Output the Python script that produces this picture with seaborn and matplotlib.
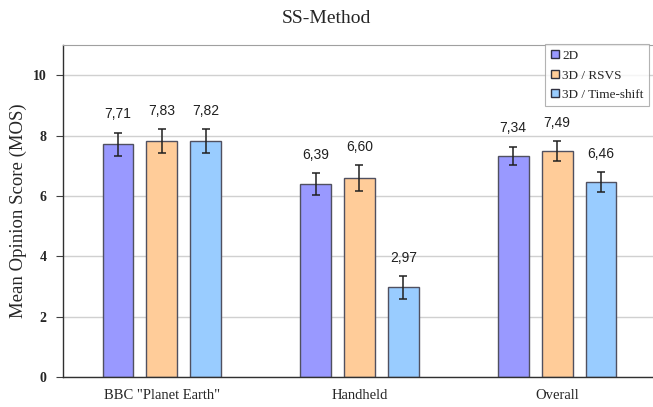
import numpy as np
import pandas as pd
import seaborn as sns
import matplotlib.pyplot as plt

# Data
categories = ['BBC "Planet Earth"', 'Handheld', 'Overall']
methods = ['2D', '3D / RSVS', '3D / Time-shift']
mos_2d = [7.71, 6.39, 7.34]
mos_rsvs = [7.83, 6.60, 7.49]
mos_timeshift = [7.82, 2.97, 6.46]
err_2d = [0.38, 0.36, 0.30]
err_rsvs = [0.39, 0.42, 0.33]
err_timeshift = [0.40, 0.37, 0.33]

colors = ['#9999FF', '#FFCC99', '#99CCFF']

df = pd.DataFrame({
    'category': categories * 3,
    'method': [m for m in methods for _ in categories],
    'mos': mos_2d + mos_rsvs + mos_timeshift,
    'err': err_2d + err_rsvs + err_timeshift,
})

sns.set_style('white')
serif = ['Liberation Serif', 'DejaVu Serif']
sans = ['Liberation Sans', 'DejaVu Sans']

fig = plt.figure(figsize=(6.53, 4.07), dpi=100)
ax = fig.add_axes([0.0965, 0.0737, 0.9035, 0.8153])

ax.yaxis.grid(True, color='#d0d0d0', linewidth=1)
ax.set_axisbelow(True)

sns.barplot(data=df, x='category', y='mos', hue='method', hue_order=methods,
            palette=colors, width=0.667, gap=0.3, errorbar=None,
            edgecolor='#505060', linewidth=1, saturation=1, ax=ax)

# error bars and value labels, placed at the bar centres seaborn drew
bars = [p for p in ax.patches if p.get_height() > 0][:len(df)]
for bar, (_, row) in zip(bars, df.iterrows()):
    xc = bar.get_x() + bar.get_width() / 2
    ax.errorbar(xc, row['mos'], yerr=row['err'], fmt='none', ecolor='#202020',
                elinewidth=1.1, capsize=3, capthick=1.1)
    ax.text(xc, row['mos'] + row['err'] + 0.38, f"{row['mos']:.2f}".replace('.', ','),
            ha='center', va='bottom', fontsize=10, family=sans, color='#202020')

ax.set_xlim(-0.5, 2.485)
ax.set_ylim(0, 11)
ax.set_yticks([0, 2, 4, 6, 8, 10])
ax.set_yticklabels([str(v) for v in [0, 2, 4, 6, 8, 10]], family=serif,
                   fontweight='bold', fontsize=10)
ax.set_xticks(range(len(categories)))
ax.set_xticklabels(categories, family=serif, fontsize=10.5)
ax.tick_params(axis='y', left=True, length=5, width=0.8, color='#404040', pad=7)
ax.tick_params(axis='x', bottom=False, pad=5)
ax.set_xlabel('')
ax.set_ylabel('Mean Opinion Score (MOS)', family=serif, fontsize=13.5, labelpad=4)

for side in ['left', 'bottom']:
    ax.spines[side].set_color('#303030')
    ax.spines[side].set_linewidth(1)
ax.spines['top'].set_color('#a0a0a0')
ax.spines['right'].set_visible(False)

fig.suptitle('SS-Method', family=serif, fontsize=14, y=0.975)

handles = [plt.Line2D([], [], marker='s', linestyle='none', markersize=5.5,
                      markerfacecolor=c, markeredgecolor='#303040') for c in colors]
leg = ax.legend(handles, methods, loc='upper right', bbox_to_anchor=(0.997, 1.01),
                prop={'family': serif, 'size': 9.5}, frameon=True, fancybox=False,
                handlelength=0.6, handletextpad=0.25, borderpad=0.4, labelspacing=0.55,
                borderaxespad=0.2)
leg.get_frame().set_edgecolor('#a0a0a0')
leg.get_frame().set_linewidth(0.8)

fig.savefig('out.png', dpi=100)
